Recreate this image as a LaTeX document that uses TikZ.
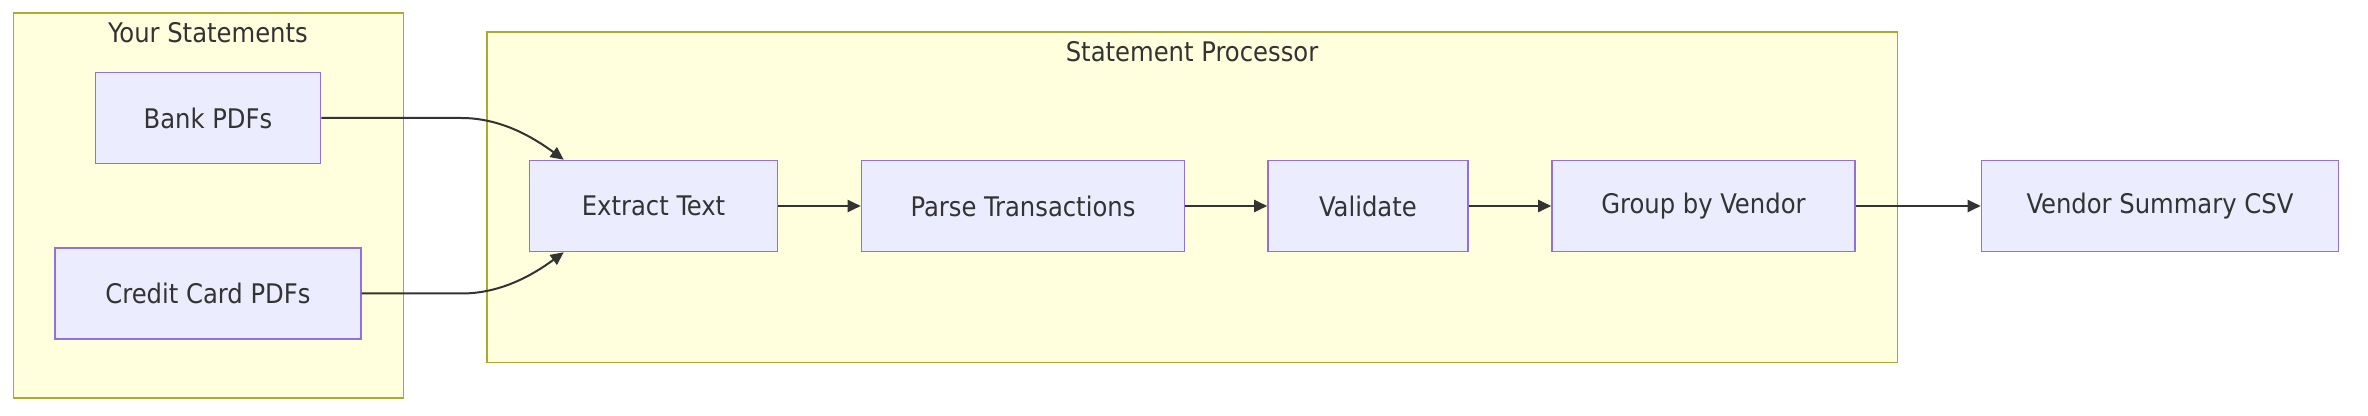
\documentclass[tikz,border=0pt]{standalone}
\usepackage{fontspec}
\setmainfont{DejaVu Sans Condensed}
\usepackage{xcolor}
\usetikzlibrary{arrows.meta, calc}

\definecolor{nodefill}{HTML}{ECECFF}
\definecolor{nodeline}{HTML}{9370DB}
\definecolor{groupfill}{HTML}{FFFFDE}
\definecolor{groupline}{HTML}{AAAA33}
\definecolor{inkgray}{HTML}{333333}

\begin{document}
\begin{tikzpicture}[x=0.5pt, y=-0.5pt,
    box/.style={draw=nodeline, fill=nodefill, line width=0.8pt, text=inkgray,
      font=\fontsize{13.5}{16}\selectfont, minimum height=45.5pt, inner sep=0pt},
    cluster/.style={draw=groupline, fill=groupfill, line width=0.8pt},
    title/.style={text=inkgray, font=\fontsize{13.5}{16}\selectfont},
    flow/.style={draw=inkgray, line width=1pt, -{Triangle[length=6.5pt, width=6pt]}}]
  \useasboundingbox (0,0) rectangle (2368,416);

  % Clusters
  \draw[cluster] (13.4,13.3) rectangle (403.4,398);
  \node[title] (srctitle) at (208,33) {Your Statements};
  \draw[cluster] (487,32) rectangle (1897.6,362.7);
  \node[title] (proctitle) at (1192,52) {Statement Processor};

  % Inputs
  \node[box, minimum width=112.5pt] (bank) at (208,118) {Bank PDFs};
  \node[box, minimum width=152.75pt] (credit) at (208,293.5) {Credit Card PDFs};

  % Processing steps
  \node[box, minimum width=124pt] (extract) at (653.5,206) {Extract Text};
  \node[box, minimum width=161.5pt] (parse) at (1023,206) {Parse Transactions};
  \node[box, minimum width=100pt] (validate) at (1368,206) {Validate};
  \node[box, minimum width=151.5pt] (group) at (1703.5,206) {Group by Vendor};

  % Output
  \node[box, minimum width=178.5pt] (summary) at (2160,206) {Vendor Summary CSV};

  % Connectors
  \coordinate (bankbend) at ($(bank.east)+(140,0)$);
  \coordinate (creditbend) at ($(credit.east)+(100,0)$);
  \draw[flow] (bank.east) -- (bankbend)
    .. controls ($(bankbend)+(40,0)$) and ($(extract.north west)+(5,-22)$) .. ($(extract.north west)+(35,0)$);
  \draw[flow] (credit.east) -- (creditbend)
    .. controls ($(creditbend)+(40,0)$) and ($(extract.south west)+(5,22)$) .. ($(extract.south west)+(35,0)$);
  \draw[flow] (extract) -- (parse);
  \draw[flow] (parse) -- (validate);
  \draw[flow] (validate) -- (group);
  \draw[flow] (group) -- (summary);
\end{tikzpicture}
\end{document}
